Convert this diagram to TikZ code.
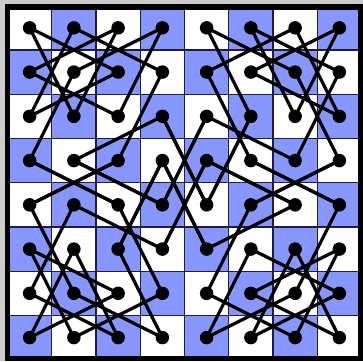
\documentclass[tikz,border=0pt]{standalone}
\definecolor{sqblue}{RGB}{136,150,255}
\definecolor{gridc}{RGB}{30,30,60}
\definecolor{margin}{RGB}{205,205,205}
\begin{document}
\begin{tikzpicture}[x=1pt,y=-1pt,
  dot/.style={circle,fill=black,inner sep=0pt,minimum size=13.5pt},
  tourline/.style={line width=3.2pt,line cap=round,line join=round},
  gridline/.style={gridc,line width=1.2pt},
  frame/.style={draw=black,line width=5.5pt}]
\useasboundingbox (0,0) rectangle (363,361);
\fill[margin] (0,0) rectangle (363,361);
% squares
\foreach \c in {0,...,7}{
  \foreach \r in {0,...,7}{
    \pgfmathtruncatemacro\pp{mod(\c+\r,2)}
    \ifnum\pp=1 \def\sqcol{sqblue}\else\def\sqcol{white}\fi
    \fill[\sqcol] ({7.5+44.25*\c},{5.7+44.25*\r}) rectangle ++(44.25,44.25);
  }
}
% grid
\foreach \i in {1,...,7}{
  \draw[gridline] ({7.5+44.25*\i},5.7) -- ++(0,354);
  \draw[gridline] (7.5,{5.7+44.25*\i}) -- ++(354,0);
}
\draw[frame] (7.25,7.25) rectangle (360.5,358.5);
% dots
\foreach \c in {0,...,7}{
  \foreach \r in {0,...,7}{
    \node[dot] (n-\c-\r) at ({7.5+44.25*(\c+0.5)},{5.7+44.25*(\r+0.5)}) {};
  }
}
% knight moves (each with its 180 degree image)
\foreach \a/\b/\c/\d in {0/0/2/1, 0/0/1/2, 1/0/0/2, 1/0/3/1, 2/0/0/1, 2/0/1/2,
  3/0/1/1, 3/0/2/2, 0/1/2/2, 1/1/0/3, 2/1/0/2, 3/1/2/3, 3/2/1/3, 3/2/4/4,
  0/3/2/4, 1/3/3/4, 2/3/0/4, 3/3/2/5, 3/3/4/5, 4/0/6/1, 4/0/5/2, 5/0/7/1,
  5/0/6/2, 6/0/7/2, 6/0/4/1, 7/0/5/1, 7/0/6/2, 4/1/5/3, 5/1/7/2, 6/1/7/3,
  7/1/6/3, 4/2/6/3, 4/2/3/4, 4/3/6/4, 4/3/3/5, 5/2/4/4, 5/3/7/4, 7/3/5/4}{
  \pgfmathtruncatemacro\ra{7-\a}
  \pgfmathtruncatemacro\rb{7-\b}
  \pgfmathtruncatemacro\rc{7-\c}
  \pgfmathtruncatemacro\rd{7-\d}
  \draw[tourline] (n-\a-\b.center) -- (n-\c-\d.center);
  \draw[tourline] (n-\ra-\rb.center) -- (n-\rc-\rd.center);
}
\end{tikzpicture}
\end{document}
